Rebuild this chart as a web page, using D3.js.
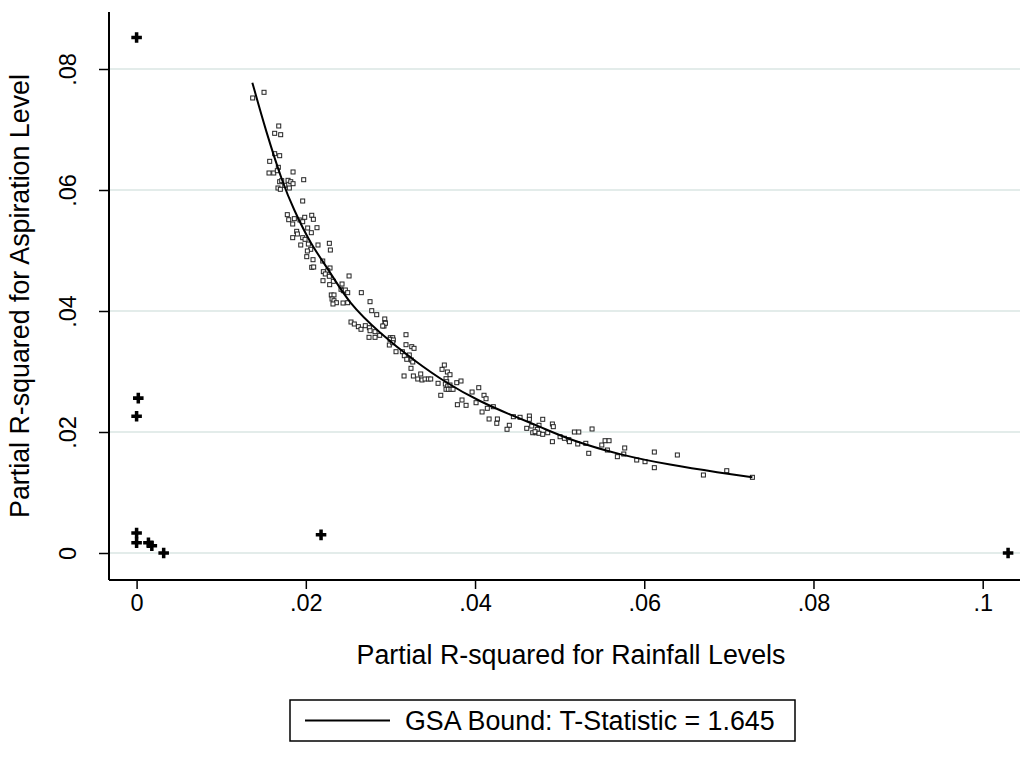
<!DOCTYPE html>
<html><head><meta charset="utf-8">
<script src="https://cdn.jsdelivr.net/npm/d3@7"></script>
<style>body{margin:0;background:#fff}svg{display:block;font-family:"Liberation Sans",Arial,Helvetica,sans-serif}</style>
</head><body><svg id="c" width="1027" height="768"></svg>
<script>
// Simulated confounder points (hollow squares)
const scatterX = [0.01372,0.01506,0.01680,0.01632,0.01703,0.01632,0.01691,0.01573,0.01675,0.01565,0.01621,0.01663,0.01849,0.01691,0.01715,0.01790,0.01822,0.01849,0.01975,0.01671,0.01699,0.01751,0.01805,0.01963,
0.01781,0.01798,0.01864,0.01931,0.01987,0.02070,0.02089,0.01845,0.01963,0.01892,0.01900,0.02022,0.02065,0.02132,0.01845,0.01963,0.01991,0.01940,0.02030,0.02144,0.02278,0.02058,0.02018,0.02290,0.02011,0.02085,0.02200,0.02070,0.02093,0.02286,0.02207,0.02259,0.02230,0.02203,0.02278,0.02325,0.02282,0.02428,0.02511,0.02416,0.02443,0.02467,0.02495,0.02656,0.02301,0.02333,0.02310,0.02333,0.02361,0.02321,0.02440,0.02495,0.02759,0.02779,0.02838,0.02933,0.02936,0.02924,0.02534,0.02573,0.02621,0.02652,0.02703,0.02751,0.02759,0.02818,0.02747,0.02818,0.02873,0.02999,0.03027,
0.02940,0.02909,0.02995,0.03034,0.02987,0.03027,0.03184,0.03184,0.03252,0.03279,0.03066,0.03141,0.03223,0.03164,0.03247,0.03264,0.03193,0.03243,0.03161,0.03271,0.03323,0.03358,0.03373,0.03409,0.03448,0.03476,0.03563,0.03610,0.03637,0.03673,0.03704,0.03657,0.03665,0.03649,0.03677,0.03704,0.03657,0.03684,0.03716,0.03740,0.03784,0.03834,0.03595,0.03965,0.04044,0.04106,0.04130,0.03846,0.03791,0.03894,0.04012,0.04083,0.04145,0.04216,0.04166,0.04264,0.04257,0.04405,0.04378,0.04453,0.04532,0.04642,0.04642,0.04611,0.04670,0.04682,0.04721,0.04736,
0.04800,0.04709,0.04756,0.04756,0.04800,0.04859,0.04914,0.04925,0.04914,0.05005,0.05056,0.05108,0.05115,0.05174,0.05226,0.05214,0.05383,0.05309,0.05344,0.05498,0.05537,0.05584,0.05564,0.05682,0.05758,0.05769,0.05911,0.06009,0.06119,0.06119,0.06391,0.06699,0.06975,0.07278];
const scatterY = [0.07521,0.07615,0.07058,0.06937,0.06914,0.06600,0.06567,0.06474,0.06375,0.06281,0.06281,0.06319,0.06298,0.06137,0.06154,0.06160,0.06137,0.06104,0.06170,0.06033,0.06012,0.06078,0.06033,0.05818,
0.05592,0.05509,0.05526,0.05504,0.05549,0.05582,0.05516,0.05438,0.05476,0.05317,0.05273,0.05372,0.05294,0.05377,0.05212,0.05212,0.05185,0.05091,0.05107,0.05091,0.05119,0.05020,0.04992,0.05008,0.04898,0.04848,0.04826,0.04722,0.04727,0.04711,0.04650,0.04666,0.04612,0.04501,0.04574,0.04491,0.04435,0.04446,0.04579,0.04359,0.04336,0.04347,0.04303,0.04303,0.04265,0.04265,0.04198,0.04170,0.04137,0.04116,0.04132,0.04137,0.04154,0.04005,0.03939,0.03868,0.03807,0.03752,0.03818,0.03785,0.03741,0.03698,0.03757,0.03724,0.03674,0.03658,0.03565,0.03565,0.03598,0.03559,0.03559,
0.03797,0.03752,0.03532,0.03521,0.03438,0.03476,0.03608,0.03443,0.03410,0.03383,0.03327,0.03327,0.03273,0.03261,0.03190,0.03157,0.03202,0.03053,0.02926,0.02926,0.02876,0.02959,0.02860,0.02876,0.02876,0.02876,0.02805,0.03036,0.03107,0.02992,0.02947,0.02881,0.02831,0.02793,0.02760,0.02777,0.02706,0.02706,0.02706,0.02706,0.02815,0.02843,0.02607,0.02661,0.02732,0.02607,0.02550,0.02529,0.02451,0.02441,0.02484,0.02331,0.02392,0.02418,0.02215,0.02215,0.02144,0.02111,0.02045,0.02253,0.02243,0.02264,0.02210,0.02061,0.02099,0.01988,0.01988,0.02045,
0.02210,0.02005,0.02111,0.01979,0.01962,0.01988,0.02132,0.02088,0.01840,0.01922,0.01896,0.01873,0.01840,0.02000,0.02000,0.01802,0.02050,0.01813,0.01648,0.01785,0.01856,0.01856,0.01702,0.01592,0.01636,0.01736,0.01537,0.01509,0.01669,0.01410,0.01620,0.01289,0.01360,0.01251];
// Actual covariates (plus markers)
const plusX = [0.0000,0.0002,0.0000,0.0000,0.0000,0.0014,0.0018,0.0032,0.0218,0.1030];
const plusY = [0.0852,0.0256,0.0226,0.0033,0.0017,0.0017,0.0012,0.0000,0.0030,0.0000];
// GSA bound curve
const boundX = [0.01368,0.01530,0.01734,0.01852,0.02050,0.02286,0.02502,0.02877,0.03271,0.03665,0.04059,0.04453,0.04768,0.05123,0.05714,0.06305,0.06896,0.07278];
const boundY = [0.07774,0.06964,0.06083,0.05698,0.05119,0.04650,0.04140,0.03631,0.03190,0.02805,0.02501,0.02264,0.02088,0.01868,0.01620,0.01455,0.01327,0.01251];

const xTickValues = [0,0.02,0.04,0.06,0.08,0.1];
const xTickLabels = ["0",".02",".04",".06",".08",".1"];
const yTickValues = [0,0.02,0.04,0.06,0.08];
const yTickLabels = ["0",".02",".04",".06",".08"];
const xTitle = "Partial R-squared for Rainfall Levels";
const yTitle = "Partial R-squared for Aspiration Level";
const legendLabel = "GSA Bound: T-Statistic = 1.645";

const svg = d3.select("#c");
svg.append("rect").attr("width",1027).attr("height",768).attr("fill","#fff");
const plotLeft = 109, plotRight = 1020, plotTop = 12, plotBottom = 580;
const x = d3.scaleLinear().domain([0,0.1]).range([136.6, 982.7]);
const y = d3.scaleLinear().domain([0,0.08]).range([553, 69]);

// gridlines
svg.append("g").selectAll("line").data(yTickValues).join("line")
  .attr("x1", plotLeft+1).attr("x2", plotRight)
  .attr("y1", d=>y(d)).attr("y2", d=>y(d))
  .attr("stroke","#e3ecea").attr("stroke-width",2);

// x axis
const gx = svg.append("g").attr("transform",`translate(0,${plotBottom})`)
  .call(d3.axisBottom(x).tickValues(xTickValues).tickFormat((d,i)=>xTickLabels[i]).tickSize(9).tickPadding(5));
gx.select(".domain").remove();
gx.selectAll(".tick line").attr("stroke","#000").attr("stroke-width",1.5);
gx.selectAll(".tick text").attr("font-size",23.5).attr("fill","#000").attr("font-family",null).attr("dy","0.71em");
svg.append("line").attr("x1",plotLeft).attr("x2",plotRight).attr("y1",plotBottom).attr("y2",plotBottom).attr("stroke","#000").attr("stroke-width",2);

// y axis
const gy = svg.append("g").attr("transform",`translate(${plotLeft},0)`)
  .call(d3.axisLeft(y).tickValues(yTickValues).tickFormat((d,i)=>yTickLabels[i]).tickSize(10));
gy.select(".domain").remove();
gy.selectAll(".tick line").attr("stroke","#000").attr("stroke-width",1.5);
gy.selectAll(".tick text").attr("font-size",23.5).attr("fill","#000").attr("font-family",null)
  .attr("transform","rotate(-90)").attr("x",0).attr("y",-33).attr("dy",0).attr("text-anchor","middle");
svg.append("line").attr("x1",plotLeft).attr("x2",plotLeft).attr("y1",plotTop).attr("y2",plotBottom).attr("stroke","#000").attr("stroke-width",2);

// titles
svg.append("text").attr("x",571).attr("y",664).attr("text-anchor","middle").attr("font-size",26.8).text(xTitle);
svg.append("text").attr("transform",`translate(29,${(plotTop+plotBottom)/2}) rotate(-90)`).attr("text-anchor","middle").attr("font-size",26.8).text(yTitle);

// scatter squares
const pts = scatterX.map((v,i)=>({x:v,y:scatterY[i]}));
svg.append("g").selectAll("rect").data(pts).join("rect")
  .attr("x",d=>x(d.x)-2).attr("y",d=>y(d.y)-2).attr("width",4).attr("height",4)
  .attr("fill","#fff").attr("stroke","#222").attr("stroke-width",1);

// bound curve
const bpts = boundX.map((v,i)=>[v,boundY[i]]);
svg.append("path").datum(bpts)
  .attr("d", d3.line().x(d=>x(d[0])).y(d=>y(d[1])).curve(d3.curveBasis))
  .attr("fill","none").attr("stroke","#000").attr("stroke-width",2);

// plus markers
const plus = plusX.map((v,i)=>({x:v,y:plusY[i]}));
svg.append("g").selectAll("path").data(plus).join("path")
  .attr("transform",d=>`translate(${x(d.x)},${y(d.y)})`)
  .attr("d", d3.symbol().type(d3.symbolCross).size(62))
  .attr("fill","#000");

// legend
svg.append("rect").attr("x",290).attr("y",700).attr("width",505).attr("height",41)
  .attr("fill","#fff").attr("stroke","#000").attr("stroke-width",1.5);
svg.append("line").attr("x1",305).attr("x2",390).attr("y1",720.5).attr("y2",720.5).attr("stroke","#000").attr("stroke-width",2);
svg.append("text").attr("x",405).attr("y",729.5).attr("font-size",26.8).text(legendLabel);
</script>
</body></html>
